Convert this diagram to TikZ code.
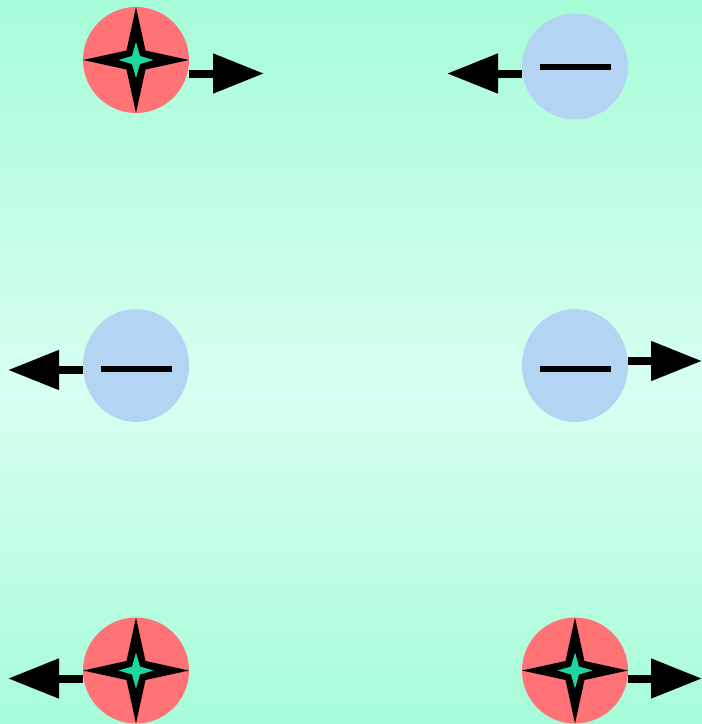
\documentclass[tikz,border=0pt]{standalone}
\usetikzlibrary{arrows.meta,shapes.geometric}
\definecolor{bgedge}{HTML}{A6FCD8}
\definecolor{bgmid}{HTML}{D8FFF0}
\definecolor{posred}{HTML}{FF7276}
\definecolor{negblue}{HTML}{B3D5F3}
\definecolor{starcore}{HTML}{1CD89F}
\tikzset{
  poscharge/.style={circle,fill=posred,minimum size=106pt,inner sep=0pt},
  negcharge/.style={circle,fill=negblue,minimum size=106pt,inner sep=0pt},
  negtall/.style={ellipse,fill=negblue,minimum width=106pt,minimum height=113pt,inner sep=0pt},
  force/.style={line width=8pt,-{Triangle[length=51pt,width=38pt]}},
  minusbar/.style={line width=6pt},
  spark/.pic={
    \fill[black] (0,-53)--(9.5,-9.5)--(53,0)--(9.5,9.5)--(0,53)--(-9.5,9.5)--(-53,0)--(-9.5,-9.5)--cycle;
    \fill[starcore] (0,-18)--(4,-4)--(17.5,0)--(4,4)--(0,18)--(-4,4)--(-17.5,0)--(-4,-4)--cycle;
  }
}
\begin{document}
\begin{tikzpicture}[x=1pt,y=-1pt]
\useasboundingbox (0,0) rectangle (702,724);
% background
\fill[top color=bgedge,bottom color=bgmid] (0,0) rectangle (702,392);
\fill[top color=bgmid,bottom color=bgedge] (0,392) rectangle (702,724);
% charges
\node[poscharge] (tl) at (136,60) {};
\node[negcharge] (tr) at (575,66.5) {};
\node[negtall] (ml) at (136,365.5) {};
\node[negtall] (mr) at (575,365.5) {};
\node[poscharge] (bl) at (136,670.5) {};
\node[poscharge] (br) at (575,670.5) {};
% symbols
\pic at (tl.center) {spark};
\pic at (bl.center) {spark};
\pic at (br.center) {spark};
\draw[minusbar] ([xshift=-35.5pt,yshift=0pt]tr.center) -- ([xshift=35.5pt]tr.center);
\draw[minusbar] ([xshift=-35.5pt,yshift=-3.5pt]ml.center) -- ([xshift=35.5pt,yshift=-3.5pt]ml.center);
\draw[minusbar] ([xshift=-35.5pt,yshift=-3.5pt]mr.center) -- ([xshift=35.5pt,yshift=-3.5pt]mr.center);
% force arrow end points
\coordinate (tlF) at (264,73.5);
\coordinate (trF) at (447,73.5);
\coordinate (mlF) at (8,370);
\coordinate (mrF) at (702,361);
\coordinate (blF) at (8,678.5);
\coordinate (brF) at (702,678.5);
% force arrows
\draw[force] (tl.east |- tlF) -- (tlF);
\draw[force] (tr.west |- trF) -- (trF);
\draw[force] (ml.west |- mlF) -- (mlF);
\draw[force] (mr.east |- mrF) -- (mrF);
\draw[force] (bl.west |- blF) -- (blF);
\draw[force] (br.east |- brF) -- (brF);
\end{tikzpicture}
\end{document}
